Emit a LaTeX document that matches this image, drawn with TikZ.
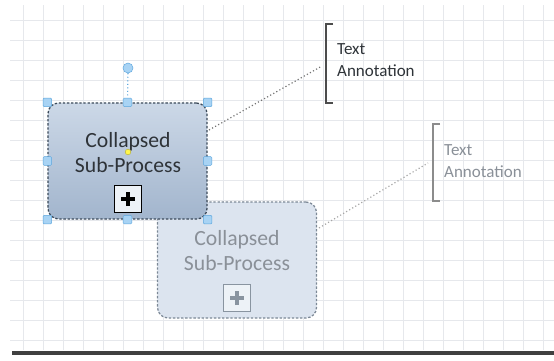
\documentclass[tikz,border=0pt]{standalone}
\usepackage{fontspec}
\setmainfont{Carlito}
\usepackage{tikz}
\usetikzlibrary{positioning,calc}
\definecolor{gridgray}{HTML}{E6E8EC}
\definecolor{boxtop}{HTML}{CCD8E7}
\definecolor{boxbottom}{HTML}{A2B5CD}
\definecolor{boxline}{HTML}{3C4A5A}
\definecolor{ghostfill}{HTML}{DCE4EF}
\definecolor{ghostline}{HTML}{7C8896}
\definecolor{ghosttext}{HTML}{8A9098}
\definecolor{handlefill}{HTML}{A8D3F4}
\definecolor{handleline}{HTML}{5CA6DD}
\definecolor{darktext}{HTML}{2E3338}
\tikzset{
  subproc/.style={draw=boxline, dash pattern=on 2pt off 1.5pt, line width=1.1pt, rounded corners=9pt, top color=boxtop, bottom color=boxbottom, minimum width=4.77cm, minimum height=3.48cm, inner sep=0pt},
  ghostproc/.style={draw=ghostline, dash pattern=on 2pt off 1.5pt, line width=1.1pt, rounded corners=9pt, fill=ghostfill, minimum width=4.77cm, minimum height=3.48cm, inner sep=0pt},
  sptext/.style={align=center, font=\fontsize{18.5}{21.3}\selectfont, text=darktext},
  ghosttxt/.style={align=center, font=\fontsize{18.5}{21.3}\selectfont, text=ghosttext},
  marker/.style={draw=#1, line width=1.2pt, fill=white!50!ghostfill, minimum size=0.8cm, inner sep=0pt,
    path picture={\draw[#1, line width=3pt] ($(path picture bounding box.center)+(-0.21cm,0)$) -- ($(path picture bounding box.center)+(0.21cm,0)$);
      \draw[#1, line width=3pt] ($(path picture bounding box.center)+(0,-0.21cm)$) -- ($(path picture bounding box.center)+(0,0.21cm)$);}},
  handle/.style={draw=handleline, fill=handlefill, rounded corners=1pt, minimum size=0.26cm, inner sep=0pt},
  annot/.style={align=left, font=\fontsize{14.5}{19}\selectfont, anchor=west, inner sep=0pt},
  bracket/.style={line width=1.2pt},
  dotline/.style={dotted, line width=1pt}
}

\begin{document}
\begin{tikzpicture}[x=0.03cm, y=-0.03cm]
  \useasboundingbox (0,0) rectangle (554,361);
  \fill[white] (0,0) rectangle (554,361);

  % grid
  \foreach \x in {23,43,...,543}
    \draw[gridgray, line width=0.6pt] (\x,5) -- (\x,350);
  \foreach \y in {20,40,...,340}
    \draw[gridgray, line width=0.6pt] (10,\y) -- (554,\y);
  \fill[black!75] (12,351) rectangle (554,355);

  % faded copy
  \node[ghostproc] (sp2) at (237,260) {};
  \node[ghosttxt] (sp2txt) at (237,251) {Collapsed\\Sub-Process};
  \node[marker=ghostline!90] (sp2mk) at (237,298) {};

  % selected sub-process
  \node[subproc] (sp1) at (127.5,161) {};
  \node[sptext] (sp1txt) at (128,153) {Collapsed\\Sub-Process};
  \node[marker=black] (sp1mk) at (128,199) {};

  \foreach \a in {north west,north,north east,west,east,south west,south,south east}
    \node[handle] (h-\a) at (sp1.\a) {};
  \node[circle, draw=handleline, fill=handlefill, minimum size=0.3cm, inner sep=0pt] (rot) at (128,68) {};
  \draw[handleline, dotline] (rot) -- (h-north);
  \node[circle, draw=yellow!70!black, fill=yellow!70, minimum size=0.17cm, inner sep=0pt] (pin) at (128,152) {};

  % annotations
  \node[annot, text=darktext] (ann1) at (337,60) {Text\\Annotation};
  \draw[bracket, black!70] (333,24) -- (326,24) -- (326,103) -- (333,103);
  \coordinate (a1) at (322,66);
  \draw[dotline, black!55] (209,130) -- (a1);

  \node[annot, text=ghosttext] (ann2) at (444,161) {Text\\Annotation};
  \draw[bracket, black!45] (440,124) -- (433,124) -- (433,201) -- (440,201);
  \coordinate (a2) at (428,163);
  \draw[dotline, black!35] (319,228) -- (a2);
\end{tikzpicture}
\end{document}
